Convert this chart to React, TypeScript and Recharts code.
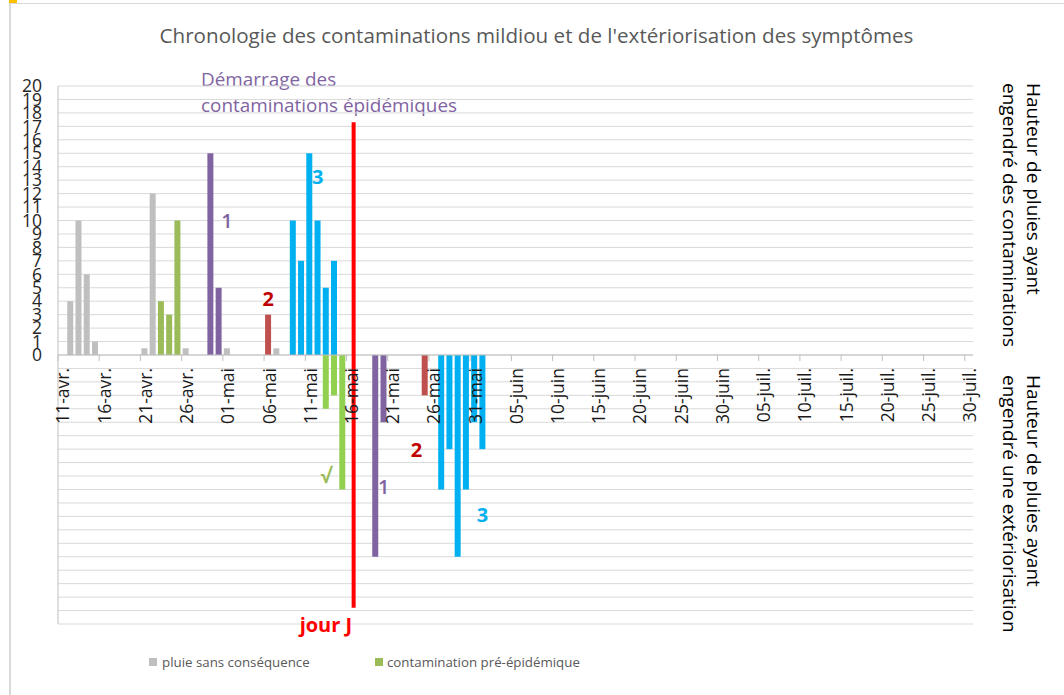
import React from 'react';
import { BarChart, Bar, XAxis, YAxis, CartesianGrid, ReferenceLine, ReferenceDot, Legend } from 'recharts';

// ---------- categories (x axis, one per day) ----------
const APRIL = ["11-avr.","12-avr.","13-avr.","14-avr.","15-avr.","16-avr.","17-avr.","18-avr.","19-avr.","20-avr.","21-avr.","22-avr.","23-avr.","24-avr.","25-avr.","26-avr.","27-avr.","28-avr.","29-avr.","30-avr."];
const MAY = ["01-mai","02-mai","03-mai","04-mai","05-mai","06-mai","07-mai","08-mai","09-mai","10-mai","11-mai","12-mai","13-mai","14-mai","15-mai","16-mai","17-mai","18-mai","19-mai","20-mai","21-mai","22-mai","23-mai","24-mai","25-mai","26-mai","27-mai","28-mai","29-mai","30-mai","31-mai"];
const JUNE = ["01-juin","02-juin","03-juin","04-juin","05-juin","06-juin","07-juin","08-juin","09-juin","10-juin","11-juin","12-juin","13-juin","14-juin","15-juin","16-juin","17-juin","18-juin","19-juin","20-juin","21-juin","22-juin","23-juin","24-juin","25-juin","26-juin","27-juin","28-juin","29-juin","30-juin"];
const JULY = ["01-juil.","02-juil.","03-juil.","04-juil.","05-juil.","06-juil.","07-juil.","08-juil.","09-juil.","10-juil.","11-juil.","12-juil.","13-juil.","14-juil.","15-juil.","16-juil.","17-juil.","18-juil.","19-juil.","20-juil.","21-juil.","22-juil.","23-juil.","24-juil.","25-juil.","26-juil.","27-juil.","28-juil.","29-juil.","30-juil."];
const CATEGORIES = [...APRIL, ...MAY, ...JUNE, ...JULY];

// ---------- series (date, mm of rain) ----------
const RAIN_NO_EFFECT: [string, number][] = [
  ["12-avr.", 4], ["13-avr.", 10], ["14-avr.", 6], ["15-avr.", 1],
  ["21-avr.", 0.5], ["22-avr.", 12], ["26-avr.", 0.5], ["01-mai", 0.5], ["07-mai", 0.5],
];
const PRE_EPIDEMIC_CONTAMINATION: [string, number][] = [["23-avr.", 4], ["24-avr.", 3], ["25-avr.", 10]];
const PRE_EPIDEMIC_SYMPTOMS: [string, number][] = [["13-mai", -4], ["14-mai", -3], ["15-mai", -10]];
const WAVE_1: [string, number][] = [["29-avr.", 15], ["30-avr.", 5], ["19-mai", -15], ["20-mai", -5]];
const WAVE_2: [string, number][] = [["06-mai", 3], ["25-mai", -3]];
const WAVE_3: [string, number][] = [
  ["09-mai", 10], ["10-mai", 7], ["11-mai", 15], ["12-mai", 10], ["13-mai", 5], ["14-mai", 7],
  ["27-mai", -10], ["28-mai", -7], ["29-mai", -15], ["30-mai", -10], ["31-mai", -5], ["01-juin", -7],
];
const Y_TICKS = [-20,-19,-18,-17,-16,-15,-14,-13,-12,-11,-10,-9,-8,-7,-6,-5,-4,-3,-2,-1,0,1,2,3,4,5,6,7,8,9,10,11,12,13,14,15,16,17,18,19,20];

// Day J marker
const DAY_J = "16-mai";
const DAY_J_TOP = 17.3;
const DAY_J_BOTTOM = -18.8;

// annotations: [text, date, value, color, bold]
const ANNOTATIONS: [string, string, number, string, boolean][] = [
  ["1", "01-mai", 10, "#8064A2", false],
  ["2", "06-mai", 4.2, "#C00000", true],
  ["3", "12-mai", 13.2, "#00B0F0", true],
  ["√", "13-mai", -9, "#9BBB59", true],
  ["1", "20-mai", -9.8, "#8064A2", false],
  ["2", "24-mai", -7.1, "#C00000", true],
  ["3", "01-juin", -11.9, "#00B0F0", true],
  ["jour J", "13-mai", -20.1, "#FF0000", true],
];

const lookup = (s: [string, number][], d: string) => {
  const f = s.find((e) => e[0] === d);
  return f ? f[1] : undefined;
};

const data = CATEGORIES.map((date) => ({
  date,
  rain: lookup(RAIN_NO_EFFECT, date),
  pre: lookup(PRE_EPIDEMIC_CONTAMINATION, date),
  preSym: lookup(PRE_EPIDEMIC_SYMPTOMS, date),
  w1: lookup(WAVE_1, date),
  w2: lookup(WAVE_2, date),
  w3: lookup(WAVE_3, date),
}));

// ---------- layout ----------
const W = 1064;
const H = 695;
const M = { top: 86, right: 91, left: 0, bottom: 21 };
const Y_AXIS_W = 58;
const X_AXIS_H = 20;
const LEGEND_H = 30;
const PLOT_H = H - M.top - M.bottom - X_AXIS_H - LEGEND_H;
const PLOT_W = W - M.left - M.right - Y_AXIS_W;
const FONT = "'Open Sans', 'Noto Sans', sans-serif";

const XTick = (props: any) => {
  const { x, y, payload } = props;
  const zeroY = y - PLOT_H / 2;
  const step = PLOT_W / CATEGORIES.length;
  return (
    <g>
      <line x1={x - step / 2} x2={x - step / 2} y1={zeroY} y2={zeroY + 6} stroke="#bfbfbf" strokeWidth={1} />
      <text
        transform={`translate(${x + 1},${zeroY + 13}) rotate(-90)`}
        textAnchor="end"
        dy="0.36em"
        fontSize={17.5}
        fill="#1a1a1a"
        fontFamily={FONT}
      >
        {payload.value}
      </text>
    </g>
  );
};

const DayJLine = (p: any) => (
  <line x1={p.x1 + 3} y1={p.y1} x2={p.x2 + 3} y2={p.y2} stroke="#FF0000" strokeWidth={4} />
);

const LegendContent = () => (
  <div style={{ height: LEGEND_H, position: 'relative', fontFamily: FONT, fontSize: 13.3, color: '#595959' }}>
    <div style={{ position: 'absolute', left: 149, top: 9, display: 'flex', alignItems: 'center', whiteSpace: 'nowrap' }}>
      <span style={{ width: 8, height: 8, background: '#BFBFBF', display: 'inline-block', marginRight: 5 }} />
      pluie sans conséquence
    </div>
    <div style={{ position: 'absolute', left: 375, top: 9, display: 'flex', alignItems: 'center', whiteSpace: 'nowrap' }}>
      <span style={{ width: 8, height: 8, background: '#9BBB59', display: 'inline-block', marginRight: 4 }} />
      contamination pré-épidémique
    </div>
  </div>
);

const sideText: React.CSSProperties = {
  position: 'absolute',
  writingMode: 'vertical-rl',
  fontFamily: FONT,
  fontSize: 19,
  lineHeight: '24px',
  color: '#000',
  whiteSpace: 'nowrap',
};

export default function App() {
  return (
    <div style={{ position: 'absolute', left: 0, top: 0, width: W, height: H, background: '#fff', overflow: 'hidden' }}>
      <div style={{ position: 'absolute', left: 9, top: 0, width: 8, height: 3, background: '#FFC000' }} />
      <div style={{ position: 'absolute', left: 9, top: 3, width: W, height: H, borderTop: '1px solid #d9d9d9', borderLeft: '2px solid #d9d9d9' }} />
      <div style={{ position: 'absolute', left: 9, width: 1055, top: 24, textAlign: 'center', fontFamily: FONT, fontSize: 20.6, lineHeight: '22px', color: '#595959', whiteSpace: 'nowrap' }}>
        Chronologie des contaminations mildiou et de l'extériorisation des symptômes
      </div>
      <div style={{ position: 'absolute', left: 201, top: 66, fontFamily: FONT, fontSize: 18.9, lineHeight: '26px', color: '#8064A2', whiteSpace: 'nowrap' }}>
        Démarrage des<br />contaminations épidémiques
      </div>
      <div style={{ ...sideText, left: 998, top: 83 }}>
        Hauteur de pluies ayant<br />engendré des contaminations
      </div>
      <div style={{ ...sideText, left: 998, top: 375 }}>
        Hauteur de pluies ayant<br />engendré une extériorisation
      </div>
      <div style={{ position: 'absolute', left: 0, top: 0 }}>
        <BarChart width={W} height={H} data={data} margin={M} stackOffset="sign" barSize={6} style={{ fontFamily: FONT }}>
          <CartesianGrid vertical={false} stroke="#d9d9d9" strokeWidth={1} />
          <XAxis
            dataKey="date"
            interval={4}
            height={X_AXIS_H}
            axisLine={false}
            tickLine={false}
            tickSize={0}
            tickMargin={0}
            tick={<XTick />}
          />
          <YAxis
            type="number"
            domain={[-20, 20]}
            ticks={Y_TICKS}
            interval={0}
            width={Y_AXIS_W}
            tickLine={false}
            tickSize={0}
            tickMargin={16}
            axisLine={{ stroke: '#bfbfbf' }}
            tickFormatter={(v: number) => (v >= 0 ? String(v) : '')}
            tick={{ fill: '#262626', fontSize: 17.5, fontFamily: FONT }}
          />
          <Legend verticalAlign="bottom" height={LEGEND_H} content={<LegendContent />} wrapperStyle={{ left: 0, width: W }} />
          <ReferenceLine y={0} stroke="#bfbfbf" strokeWidth={1} />
          <Bar dataKey="rain" name="pluie sans conséquence" stackId="a" fill="#BFBFBF" isAnimationActive={false} />
          <Bar dataKey="pre" name="contamination pré-épidémique" stackId="a" fill="#9BBB59" isAnimationActive={false} />
          <Bar dataKey="preSym" stackId="a" fill="#92D050" legendType="none" isAnimationActive={false} />
          <Bar dataKey="w1" stackId="a" fill="#8064A2" legendType="none" isAnimationActive={false} />
          <Bar dataKey="w2" stackId="a" fill="#C0504D" legendType="none" isAnimationActive={false} />
          <Bar dataKey="w3" stackId="a" fill="#00B0F0" legendType="none" isAnimationActive={false} />
          <ReferenceLine
            segment={[{ x: DAY_J, y: DAY_J_TOP }, { x: DAY_J, y: DAY_J_BOTTOM }]}
            stroke="#FF0000"
            strokeWidth={4}
            ifOverflow="visible"
            shape={DayJLine}
          />
          {ANNOTATIONS.map(([text, date, value, color, bold], i) => (
            <ReferenceDot
              key={i}
              x={date}
              y={value}
              r={1}
              ifOverflow="visible"
              shape={(p: any) => (
                <text
                  x={p.cx}
                  y={p.cy}
                  dy="0.35em"
                  textAnchor="middle"
                  fill={color}
                  fontSize={20}
                  fontWeight={bold ? 700 : 600}
                  fontFamily={FONT}
                >
                  {text}
                </text>
              )}
            />
          ))}
        </BarChart>
      </div>
    </div>
  );
}
